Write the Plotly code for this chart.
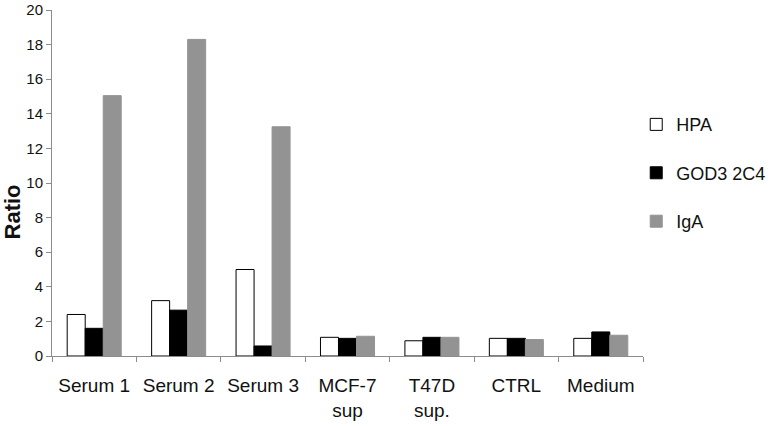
import plotly.graph_objects as go

categories = ["Serum 1", "Serum 2", "Serum 3", "MCF-7<br>sup", "T47D<br>sup.", "CTRL", "Medium"]
hpa = [2.4, 3.2, 5.0, 1.08, 0.88, 1.02, 1.02]
god3 = [1.6, 2.65, 0.58, 1.02, 1.08, 1.02, 1.39]
iga = [15.05, 18.3, 13.25, 1.14, 1.08, 0.95, 1.2]

fig = go.Figure()
fig.add_trace(go.Bar(name="HPA", x=categories, y=hpa, marker=dict(color="white", line=dict(color="black", width=1)), legendgroup="a"))
fig.add_trace(go.Bar(name="GOD3 2C4", x=categories, y=god3, marker=dict(color="black", line=dict(color="black", width=1)), legendgroup="b"))
fig.add_trace(go.Bar(name="IgA", x=categories, y=iga, marker=dict(color="#939393", line=dict(color="#939393", width=1)), legendgroup="c"))

fig.update_layout(
    width=774, height=426,
    margin=dict(l=52, r=131, t=10, b=70, autoexpand=False),
    paper_bgcolor="white", plot_bgcolor="white",
    font=dict(family="Liberation Sans, Arial, sans-serif", size=15, color="#111111"),
    barmode="group", bargap=0.36, bargroupgap=0,
    showlegend=True,
    legend=dict(x=0.822, xref="container", y=0.722, xanchor="left", yanchor="top", traceorder="grouped",
                tracegroupgap=22, font=dict(size=18), itemwidth=30, bgcolor="rgba(0,0,0,0)"),
    xaxis=dict(showline=True, linecolor="#8c8c8c", linewidth=1, ticks="outside", tickson="boundaries",
               ticklen=5, tickcolor="#8c8c8c", showgrid=False, tickfont=dict(size=19), automargin=False,
               ticklabelstandoff=12),
    yaxis=dict(range=[0, 20], dtick=2, showline=True, linecolor="#8c8c8c", linewidth=1,
               ticks="outside", ticklen=5, tickcolor="#8c8c8c", showgrid=False, zeroline=False,
               tickfont=dict(size=15), automargin=False),
    annotations=[dict(text="<b>Ratio</b>", textangle=-90, x=-0.067, y=0.416, xref="paper", yref="paper",
                      showarrow=False, font=dict(size=22), xanchor="center", yanchor="middle")],
)
fig.write_html("out.html", config={"displayModeBar": False},
               post_script="document.body.style.margin='0';document.body.style.overflow='hidden';")
